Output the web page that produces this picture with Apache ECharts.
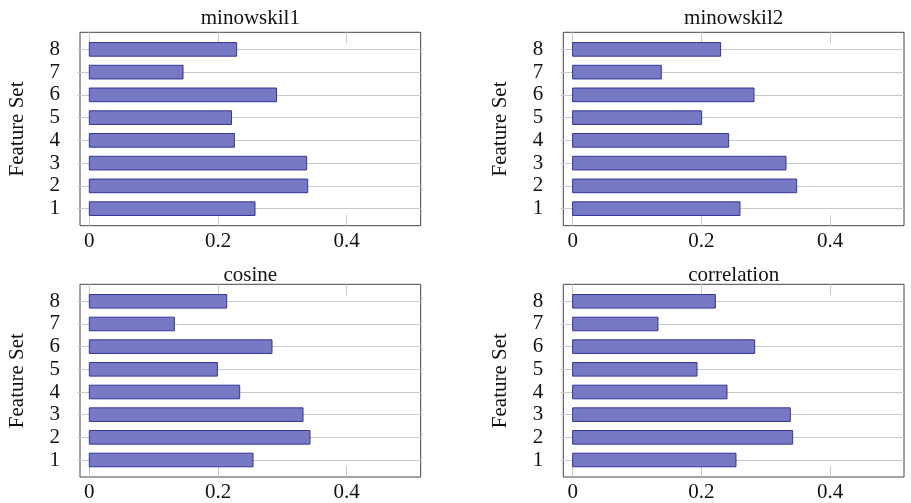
<!DOCTYPE html>
<html><head><meta charset="utf-8">
<script src="https://cdn.jsdelivr.net/npm/echarts@6/dist/echarts.min.js"></script>
<style>html,body{margin:0;padding:0;background:#fff}#c{width:911px;height:503px}</style>
</head><body><div id="c"></div>
<script>
const featureSets = [1, 2, 3, 4, 5, 6, 7, 8];
const xTicks = [0, 0.2, 0.4];
const titles = ['minowskil1', 'minowskil2', 'cosine', 'correlation'];
const minowskil1 = [0.2575, 0.3394, 0.3378, 0.2254, 0.221, 0.291, 0.1456, 0.229];
const minowskil2 = [0.2601, 0.3482, 0.3316, 0.2425, 0.2005, 0.2819, 0.1378, 0.230];
const cosine = [0.2544, 0.343, 0.3321, 0.2337, 0.199, 0.2839, 0.1321, 0.2135];
const correlation = [0.2539, 0.342, 0.3383, 0.2399, 0.1933, 0.2829, 0.1326, 0.2218];
const seriesValues = [minowskil1, minowskil2, cosine, correlation];

const FONT = 'Liberation Serif';
const TEXT_C = '#111';
const GRID_C = '#c8c8c8';
const grids = [
  {left: 80, right: 490.3, top: 32.3, bottom: 277.3},
  {left: 563.3, right: 7, top: 32.3, bottom: 277.3},
  {left: 80, right: 490.3, top: 284.3, bottom: 25.3},
  {left: 563.3, right: 7, top: 284.3, bottom: 25.3}
];
const option = {animation: false, grid: [], xAxis: [], yAxis: [], series: [], graphic: []};
grids.forEach((g, i) => {
  option.grid.push(Object.assign({show: true, borderColor: '#444', borderWidth: 1, backgroundColor: 'transparent', containLabel: false}, g));
  const xBase = {
    type: 'value', gridIndex: i, min: -0.0145, max: 0.515,
    axisLine: {show: false}, splitLine: {show: false},
    axisTick: {show: true, inside: true, length: 11, customValues: xTicks, lineStyle: {color: GRID_C, width: 1}}
  };
  option.xAxis.push(Object.assign({}, xBase, {position: 'bottom',
    axisLabel: {show: true, customValues: xTicks, margin: 5, fontFamily: FONT, fontSize: 21, color: TEXT_C,
      formatter: v => (v === 0 ? '0' : String(v))}}));
  option.xAxis.push(Object.assign({}, xBase, {position: 'top', axisLabel: {show: false}}));
  option.yAxis.push({
    type: 'value', gridIndex: i, min: 0.25, max: 8.75, position: 'left',
    axisLine: {show: false},
    axisTick: {show: true, inside: false, length: 12, customValues: featureSets, lineStyle: {color: GRID_C}},
    axisLabel: {show: true, customValues: featureSets, margin: 20, fontFamily: FONT, fontSize: 21, color: TEXT_C},
    splitLine: {show: true, lineStyle: {color: GRID_C, width: 1}},
    name: 'Feature Set', nameLocation: 'middle', nameRotate: 90, nameGap: 52,
    nameTextStyle: {fontFamily: FONT, fontSize: 21, color: TEXT_C}
  });
  option.yAxis.push({
    type: 'value', gridIndex: i, min: 0.25, max: 8.75, position: 'right',
    axisLine: {show: false},
    axisTick: {show: true, inside: false, length: 12, customValues: featureSets, lineStyle: {color: GRID_C}},
    axisLabel: {show: false}, splitLine: {show: false}
  });
  option.series.push({
    type: 'custom', xAxisIndex: 2 * i, yAxisIndex: 2 * i,
    data: featureSets.map((f, k) => [f, seriesValues[i][k]]),
    encode: {x: 1, y: 0},
    renderItem: function (params, api) {
      const y = api.value(0), v = api.value(1);
      const p0 = api.coord([0, y + 0.3]);
      const p1 = api.coord([v, y - 0.3]);
      return {type: 'rect', shape: {x: p0[0], y: p0[1], width: p1[0] - p0[0], height: p1[1] - p0[1]},
        style: {fill: '#7779c4', stroke: '#34349a', lineWidth: 1}};
    }
  });
  const cx = i % 2 === 0 ? 250.35 : 733.65;
  const ty = i < 2 ? 18 : 275;
  option.graphic.push({type: 'text', x: cx, y: ty, style: {text: titles[i], textAlign: 'center', textVerticalAlign: 'middle',
    font: '21px "' + FONT + '"', fill: TEXT_C}});
});
const chart = echarts.init(document.getElementById('c'), null, {renderer: 'canvas'});
chart.setOption(option);
</script></body></html>
